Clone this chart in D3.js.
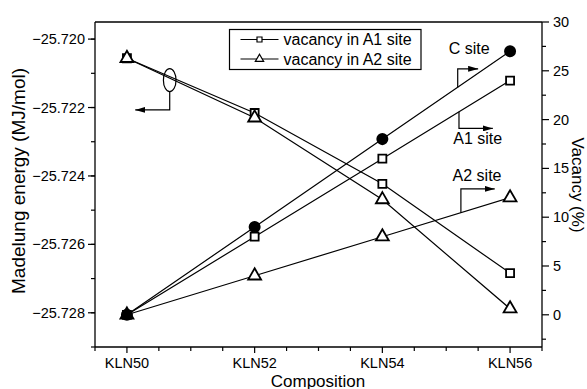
<!DOCTYPE html>
<html>
<head>
<meta charset="utf-8">
<script src="https://cdn.jsdelivr.net/npm/d3@7"></script>
<style>
  body { margin: 0; background: #fff; }
  text { font-family: "Liberation Sans", Arial, sans-serif; fill: #000; }
</style>
</head>
<body>
<script>
// data
var compositions = [50, 52, 54, 56];
var compLabels = ["KLN50", "KLN52", "KLN54", "KLN56"];

// Madelung energy (left axis)
var energyA1 = [-25.72056, -25.72216, -25.72423, -25.72684];
var energyA2 = [-25.72056, -25.72230, -25.72469, -25.72788];

// vacancy % (right axis)
var vacC = [0, 9, 18, 27];
var vacA1 = [0, 8, 16, 24];
var vacA2 = [0, 4, 8, 12];

var leftTicks = [-25.720, -25.722, -25.724, -25.726, -25.728];
var rightTicks = [0, 5, 10, 15, 20, 25, 30];

var w = 587, h = 389;
var pL = 95, pR = 542, pT = 22, pB = 347;

var svg = d3.select("body").append("svg")
  .attr("width", w)
  .attr("height", h);

var defs = svg.append("defs");
defs.append("marker")
  .attr("id", "arr")
  .attr("viewBox", "0 0 10 6")
  .attr("refX", 10).attr("refY", 3)
  .attr("markerWidth", 10).attr("markerHeight", 6)
  .attr("markerUnits", "userSpaceOnUse")
  .attr("orient", "auto")
  .append("path").attr("d", "M0,0L10,3L0,6Z").attr("fill", "#000");

var x = d3.scaleLinear().domain([49.5, 56.5]).range([pL, pR]);
var yL = d3.scaleLinear().domain([-25.729, -25.7195]).range([pB, pT]);
var yR = d3.scaleLinear().domain([-3.3, 30]).range([pB, pT]);

// frame
svg.append("line").attr("x1", pL).attr("x2", pR).attr("y1", pT).attr("y2", pT)
  .attr("stroke", "#000").attr("stroke-width", 1.3);

// axes
var xMinor = d3.range(49.5, 56.51, 0.5);
var xAxis = svg.append("g").attr("transform", "translate(0," + pB + ")");
xAxis.append("line").attr("x1", pL).attr("x2", pR).attr("stroke", "#000").attr("stroke-width", 1.3);
xAxis.selectAll(".mt").data(xMinor).enter().append("line")
  .attr("x1", function(d) { return x(d); }).attr("x2", function(d) { return x(d); })
  .attr("y1", 0).attr("y2", function(d) { return compositions.indexOf(d) >= 0 ? 6 : 4; })
  .attr("stroke", "#000").attr("stroke-width", 1.2);
xAxis.selectAll(".lb").data(compositions).enter().append("text")
  .attr("x", function(d) { return x(d); })
  .attr("y", 21)
  .attr("text-anchor", "middle")
  .attr("font-size", "14.5px")
  .text(function(d, i) { return compLabels[i]; });

var yAxisL = svg.append("g").attr("transform", "translate(" + pL + ",0)");
yAxisL.append("line").attr("y1", pT).attr("y2", pB).attr("stroke", "#000").attr("stroke-width", 1.3);
yAxisL.selectAll(".mt").data(d3.range(-25.729, -25.7195, 0.001)).enter().append("line")
  .attr("y1", function(d) { return yL(d); }).attr("y2", function(d) { return yL(d); })
  .attr("x1", -4).attr("x2", 0)
  .attr("stroke", "#000").attr("stroke-width", 1.2);
yAxisL.selectAll(".t").data(leftTicks).enter().append("line")
  .attr("y1", function(d) { return yL(d); }).attr("y2", function(d) { return yL(d); })
  .attr("x1", -7).attr("x2", 0)
  .attr("stroke", "#000").attr("stroke-width", 1.2);
yAxisL.selectAll(".lb").data(leftTicks).enter().append("text")
  .attr("x", -10)
  .attr("y", function(d) { return yL(d); })
  .attr("dy", "0.35em")
  .attr("text-anchor", "end")
  .attr("font-size", "14.5px")
  .text(function(d) { return d3.format(".3f")(d); });

var yAxisR = svg.append("g").attr("transform", "translate(" + pR + ",0)");
yAxisR.append("line").attr("y1", pT).attr("y2", pB).attr("stroke", "#000").attr("stroke-width", 1.3);
yAxisR.selectAll(".mt").data(d3.range(-2.5, 30.1, 2.5)).enter().append("line")
  .attr("y1", function(d) { return yR(d); }).attr("y2", function(d) { return yR(d); })
  .attr("x1", 0).attr("x2", function(d) { return rightTicks.indexOf(d) >= 0 ? 7 : 4; })
  .attr("stroke", "#000").attr("stroke-width", 1.2);
yAxisR.selectAll(".lb").data(rightTicks).enter().append("text")
  .attr("x", 11)
  .attr("y", function(d) { return yR(d); })
  .attr("dy", "0.35em")
  .attr("font-size", "14.5px")
  .text(function(d) { return d; });

// axis titles
svg.append("text").attr("x", 318).attr("y", 387).attr("text-anchor", "middle")
  .attr("font-size", "17px").text("Composition");
svg.append("text").attr("transform", "translate(25,181) rotate(-90)").attr("text-anchor", "middle")
  .attr("font-size", "19px").text("Madelung energy (MJ/mol)");
svg.append("text").attr("transform", "translate(572,185) rotate(90)").attr("text-anchor", "middle")
  .attr("font-size", "17px").text("Vacancy (%)");

// series
var series = [
  { vals: energyA1, y: yL, shape: "square" },
  { vals: energyA2, y: yL, shape: "triangle" },
  { vals: vacA1, y: yR, shape: "square" },
  { vals: vacA2, y: yR, shape: "triangle" },
  { vals: vacC, y: yR, shape: "circle" }
];

series.forEach(function(s) {
  var line = d3.line()
    .x(function(d, i) { return x(compositions[i]); })
    .y(function(d) { return s.y(d); });
  svg.append("path").datum(s.vals)
    .attr("d", line)
    .attr("fill", "none")
    .attr("stroke", "#000")
    .attr("stroke-width", 1.2);
});

var symbols = {
  square: d3.symbol().type(d3.symbolSquare).size(64),
  triangle: d3.symbol().type(d3.symbolTriangle).size(72),
  circle: d3.symbol().type(d3.symbolCircle).size(82)
};

series.forEach(function(s) {
  svg.selectAll(null).data(s.vals).enter().append("path")
    .attr("transform", function(d, i) { return "translate(" + x(compositions[i]) + "," + s.y(d) + ")"; })
    .attr("d", symbols[s.shape]())
    .attr("fill", s.shape == "circle" ? "#000" : "#fff")
    .attr("stroke", "#000")
    .attr("stroke-width", 1.8);
});

// annotations
function elbow(pts) {
  svg.append("path")
    .attr("d", d3.line()(pts))
    .attr("fill", "none")
    .attr("stroke", "#000")
    .attr("stroke-width", 1.2)
    .attr("marker-end", "url(#arr)");
}

elbow([[x(55.18), yR(23.3)], [x(55.18), yR(25.2)], [x(55.5), yR(25.2)]]);
elbow([[x(55.2), yR(20.8)], [x(55.2), yR(19.1)], [x(55.73), yR(19.1)]]);
elbow([[x(55.23), yR(10.46)], [x(55.23), yR(12.9)], [x(55.76), yR(12.9)]]);

svg.append("text").attr("x", x(55.04)).attr("y", yR(27.3)).attr("dy", "0.35em")
  .attr("font-size", "16px").text("C site");
svg.append("text").attr("x", x(55.11)).attr("y", yR(18.1)).attr("dy", "0.35em")
  .attr("font-size", "16px").text("A1 site");
svg.append("text").attr("x", x(55.1)).attr("y", yR(14.3)).attr("dy", "0.35em")
  .attr("font-size", "16px").text("A2 site");

// ellipse pointing to left axis
svg.append("ellipse")
  .attr("cx", x(50.67)).attr("cy", yL(-25.7212))
  .attr("rx", 6.3).attr("ry", 11.5)
  .attr("fill", "none").attr("stroke", "#000").attr("stroke-width", 1.2);
elbow([[x(50.67), yL(-25.7212) + 11.5], [x(50.67), yL(-25.72207)], [x(50.13), yL(-25.72207)]]);

// legend
var lg = svg.append("g");
lg.append("rect").attr("x", 229.5).attr("y", 29.5).attr("width", 191.5).attr("height", 40)
  .attr("fill", "#fff").attr("stroke", "#000").attr("stroke-width", 1.2);
var legendItems = [
  { label: "vacancy in A1 site", shape: "square" },
  { label: "vacancy in A2 site", shape: "triangle" }
];
legendItems.forEach(function(d, i) {
  var yy = 39.5 + i * 19.5;
  lg.append("line").attr("x1", 240.5).attr("x2", 278.5).attr("y1", yy).attr("y2", yy)
    .attr("stroke", "#000").attr("stroke-width", 1.2);
  lg.append("path")
    .attr("transform", "translate(259.5," + yy + ")")
    .attr("d", d3.symbol().type(d.shape == "square" ? d3.symbolSquare : d3.symbolTriangle).size(d.shape == "square" ? 25 : 30)())
    .attr("fill", "#fff").attr("stroke", "#000").attr("stroke-width", 1.2);
  lg.append("text").attr("x", 283.5).attr("y", yy).attr("dy", "0.35em")
    .attr("font-size", "16px").text(d.label);
});
</script>
</body>
</html>
